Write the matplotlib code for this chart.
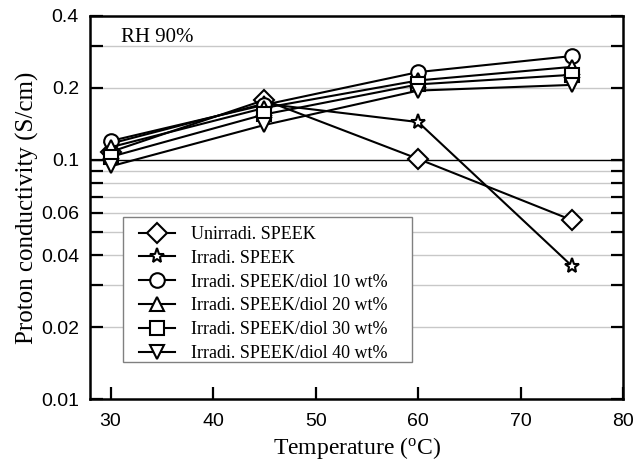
import matplotlib.pyplot as plt
from matplotlib.patches import Rectangle
from matplotlib.ticker import FixedLocator, FixedFormatter, NullLocator

temps = [30, 45, 60, 75]

unirradi = [0.108, 0.178, 0.101, 0.056]
irradi = [0.117, 0.172, 0.144, 0.036]
diol10 = [0.120, 0.170, 0.233, 0.272]
diol20 = [0.113, 0.165, 0.215, 0.245]
diol30 = [0.103, 0.155, 0.207, 0.227]
diol40 = [0.094, 0.140, 0.195, 0.206]

labels = ['Unirradi. SPEEK', 'Irradi. SPEEK', 'Irradi. SPEEK/diol 10 wt%',
          'Irradi. SPEEK/diol 20 wt%', 'Irradi. SPEEK/diol 30 wt%',
          'Irradi. SPEEK/diol 40 wt%']
markers = ['D', '*', 'o', '^', 's', 'v']
sizes = [10, 11, 10.5, 10.5, 9.5, 10.5]

y_ticks = [0.01, 0.02, 0.03, 0.04, 0.05, 0.06, 0.07, 0.08, 0.09, 0.1, 0.2, 0.3, 0.4]
y_labels = ['0.01', '0.02', '', '0.04', '', '0.06', '', '', '', '0.1', '0.2', '', '0.4']


def main():
    fig = plt.figure(figsize=(6.34, 4.70), dpi=100)
    ax = fig.add_axes([0.142, 0.151, 0.841, 0.815])

    series = [unirradi, irradi, diol10, diol20, diol30, diol40]
    for vals, lab, m, ms in zip(series, labels, markers, sizes):
        ax.plot(temps, vals, color='black', lw=1.5, marker=m, markersize=ms,
                markerfacecolor='white', markeredgecolor='black',
                markeredgewidth=1.5, label=lab, zorder=3)

    ax.set_yscale('log')
    ax.set_ylim(0.01, 0.4)
    ax.set_xlim(28, 80)

    ax.yaxis.set_major_locator(FixedLocator(y_ticks))
    ax.yaxis.set_major_formatter(FixedFormatter(y_labels))
    ax.yaxis.set_minor_locator(NullLocator())
    ax.set_xticks([30, 40, 50, 60, 70, 80])

    for t in y_ticks[1:-1]:
        if t == 0.1:
            ax.axhline(t, color='black', lw=1.0, zorder=1)
        else:
            ax.axhline(t, color='#c8c8c8', lw=1.0, zorder=1)

    ax.tick_params(axis='y', which='both', direction='in', length=9, width=1.6,
                   right=True, labelsize=14, pad=8)
    ax.tick_params(axis='x', direction='in', length=9, width=1.6, top=False,
                   labelsize=14, pad=10)
    for lab in ax.get_xticklabels() + ax.get_yticklabels():
        lab.set_fontfamily('Liberation Sans')

    for s in ax.spines.values():
        s.set_linewidth(1.8)

    ax.set_xlabel('Temperature ($\\mathregular{^{o}}$C)', family='Liberation Serif',
                  fontsize=17, labelpad=4)
    ax.set_ylabel('Proton conductivity (S/cm)', family='Liberation Serif',
                  fontsize=18, labelpad=1)

    ax.text(0.058, 0.945, 'RH 90%', transform=ax.transAxes, family='Liberation Serif',
            fontsize=15, va='center', ha='left')

    # legend box drawn separately (wider padding than matplotlib's frame)
    ax.add_patch(Rectangle((0.062, 0.0966), 0.542, 0.378, transform=ax.transAxes,
                           facecolor='white', edgecolor='#808080', lw=1.0,
                           zorder=4))
    leg = ax.legend(loc='upper left', bbox_to_anchor=(0.092, 0.452),
                    borderaxespad=0, borderpad=0, frameon=False,
                    prop={'family': 'Liberation Serif', 'size': 13},
                    handlelength=2.0, labelspacing=0.38, handletextpad=0.88)
    leg.set_zorder(5)

    fig.savefig('out.png', dpi=100)


if __name__ == "__main__":
    main()
